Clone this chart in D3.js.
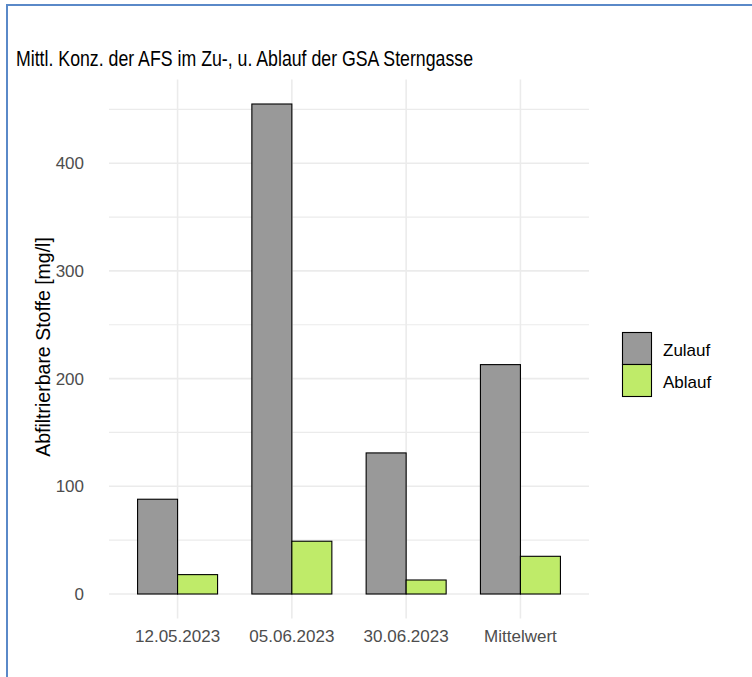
<!DOCTYPE html>
<html>
<head>
<meta charset="utf-8">
<script src="https://cdn.jsdelivr.net/npm/d3@7"></script>
<style>
    body { margin: 0; background: #fff; }
    svg { display: block; font-family: "Liberation Sans", Arial, sans-serif; }
</style>
</head>
<body>
<div id="chart"></div>
<script>
// data
const categories = ['12.05.2023', '05.06.2023', '30.06.2023', 'Mittelwert'];
const seriesNames = ['Zulauf', 'Ablauf'];
const zulauf = [88, 455, 131, 213];
const ablauf = [18, 49, 13, 35];
const yTicks = [0, 100, 200, 300, 400];
const yMinor = [50, 150, 250, 350, 450];

const colors = { Zulauf: '#999999', Ablauf: '#bfeb69' };

const width = 752;
const height = 677;
const panel = { left: 109, right: 589, top: 79.5, bottom: 618.5 };

const svg = d3.select('#chart').append('svg')
    .attr('width', width)
    .attr('height', height);

// screenshot frame (top and left edge)
svg.append('line')
    .attr('x1', 6).attr('x2', width).attr('y1', 5).attr('y2', 5)
    .attr('stroke', '#5a89c8').attr('stroke-width', 2);
svg.append('line')
    .attr('x1', 7).attr('x2', 7).attr('y1', 4).attr('y2', height)
    .attr('stroke', '#5a89c8').attr('stroke-width', 2);

// discrete axis expand: 0.6 units each side (ggplot default)
const step = (panel.right - panel.left) / (categories.length - 1 + 1.2);
const x = d3.scalePoint()
    .domain(categories)
    .range([panel.left + 0.6 * step, panel.right - 0.6 * step]);
const dodge = d3.scaleBand()
    .domain(seriesNames)
    .range([-0.35 * step, 0.35 * step]);

const yMax = d3.max(zulauf.concat(ablauf));
const y = d3.scaleLinear()
    .domain([-0.05 * yMax, yMax * 1.05])
    .range([panel.bottom, panel.top]);

const grid = svg.append('g');
grid.selectAll('line.minor')
    .data(yMinor)
    .enter().append('line')
    .attr('class', 'minor')
    .attr('x1', panel.left).attr('x2', panel.right)
    .attr('y1', d => y(d)).attr('y2', d => y(d))
    .attr('stroke', '#ebebeb').attr('stroke-width', 1.2);
grid.selectAll('line.major')
    .data(yTicks)
    .enter().append('line')
    .attr('class', 'major')
    .attr('x1', panel.left).attr('x2', panel.right)
    .attr('y1', d => y(d)).attr('y2', d => y(d))
    .attr('stroke', '#ebebeb').attr('stroke-width', 1.6);
grid.selectAll('line.vmajor')
    .data(categories)
    .enter().append('line')
    .attr('class', 'vmajor')
    .attr('x1', d => x(d)).attr('x2', d => x(d))
    .attr('y1', panel.top).attr('y2', panel.bottom)
    .attr('stroke', '#ebebeb').attr('stroke-width', 1.6);

// bars
const rows = [];
categories.forEach((c, i) => {
    rows.push({ cat: c, series: 'Zulauf', value: zulauf[i] });
    rows.push({ cat: c, series: 'Ablauf', value: ablauf[i] });
});

svg.append('g')
    .selectAll('rect')
    .data(rows)
    .enter().append('rect')
    .attr('x', d => x(d.cat) + dodge(d.series))
    .attr('width', dodge.bandwidth())
    .attr('y', d => y(d.value))
    .attr('height', d => y(0) - y(d.value))
    .attr('fill', d => colors[d.series])
    .attr('stroke', '#000')
    .attr('stroke-width', 1.1);

// y axis labels
svg.append('g')
    .selectAll('text')
    .data(yTicks)
    .enter().append('text')
    .attr('x', 84)
    .attr('y', d => y(d))
    .attr('dy', '0.35em')
    .attr('text-anchor', 'end')
    .attr('font-size', 17)
    .attr('fill', '#4d4d4d')
    .text(d => d);

// x axis labels
svg.append('g')
    .selectAll('text')
    .data(categories)
    .enter().append('text')
    .attr('x', d => x(d))
    .attr('y', 636)
    .attr('dy', '0.35em')
    .attr('text-anchor', 'middle')
    .attr('font-size', 17)
    .attr('fill', '#4d4d4d')
    .text(d => d);

// axis title
svg.append('text')
    .attr('transform', 'translate(50, 347) rotate(-90)')
    .attr('text-anchor', 'middle')
    .attr('font-size', 19.5)
    .attr('fill', '#000')
    .text('Abfiltrierbare Stoffe [mg/l]');

// title (glyphs in the reference are narrow and tall)
svg.append('text')
    .attr('x', 16)
    .attr('y', 65.5)
    .attr('font-size', 22.5)
    .attr('textLength', 457)
    .attr('lengthAdjust', 'spacingAndGlyphs')
    .attr('fill', '#000')
    .text('Mittl. Konz. der AFS im Zu-, u. Ablauf der GSA Sterngasse');

// legend
const legend = svg.append('g');
const keyH = 32;
seriesNames.forEach((s, i) => {
    legend.append('rect')
        .attr('x', 622.5)
        .attr('y', 332.5 + i * keyH)
        .attr('width', 29)
        .attr('height', keyH)
        .attr('fill', colors[s])
        .attr('stroke', '#000')
        .attr('stroke-width', 1.1);
    legend.append('text')
        .attr('x', 663)
        .attr('y', 332.5 + i * keyH + keyH / 2 + 2)
        .attr('dy', '0.35em')
        .attr('font-size', 17)
        .attr('fill', '#000')
        .text(s);
});
</script>
</body>
</html>
